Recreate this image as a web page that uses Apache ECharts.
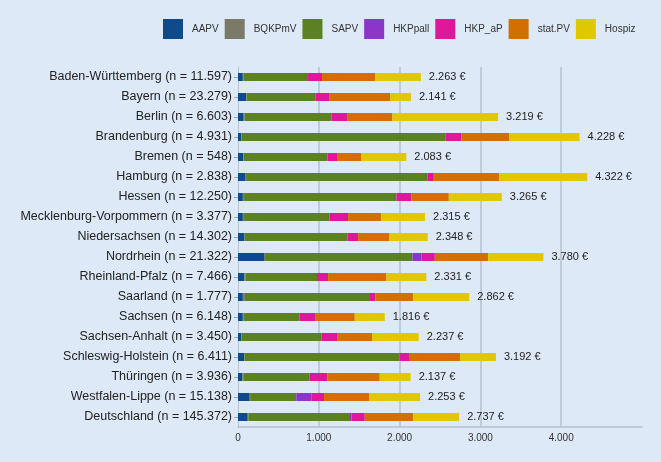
<!DOCTYPE html>
<html>
<head>
<meta charset="utf-8">
<script src="https://cdn.jsdelivr.net/npm/echarts@6/dist/echarts.min.js"></script>
<style>
html,body{margin:0;padding:0;background:#dde9f6;}
#chart{width:661px;height:462px;}
</style>
</head>
<body>
<div id="chart"></div>
<script>
const categories = [
  "Baden-Württemberg (n = 11.597)",
  "Bayern (n = 23.279)",
  "Berlin (n = 6.603)",
  "Brandenburg (n = 4.931)",
  "Bremen (n = 548)",
  "Hamburg (n = 2.838)",
  "Hessen (n = 12.250)",
  "Mecklenburg-Vorpommern (n = 3.377)",
  "Niedersachsen (n = 14.302)",
  "Nordrhein (n = 21.322)",
  "Rheinland-Pfalz (n = 7.466)",
  "Saarland (n = 1.777)",
  "Sachsen (n = 6.148)",
  "Sachsen-Anhalt (n = 3.450)",
  "Schleswig-Holstein (n = 6.411)",
  "Thüringen (n = 3.936)",
  "Westfalen-Lippe (n = 15.138)",
  "Deutschland (n = 145.372)"
];
const AAPV    = [60, 100, 70, 40, 65, 95, 60, 60, 80, 330, 80, 60, 60, 40, 75, 55, 145, 120];
const BQKPmV  = [10, 8, 12, 5, 8, 5, 15, 15, 5, 5, 15, 25, 8, 5, 5, 10, 5, 8];
const SAPV    = [797, 854, 1074, 2527, 1037, 2249, 1886, 1056, 1273, 1824, 883, 1537, 692, 991, 1922, 823, 572, 1247];
const HKPpall = [0, 0, 0, 0, 0, 0, 0, 0, 0, 111, 0, 0, 0, 0, 0, 0, 190, 29];
const HKP_aP  = [173, 165, 202, 193, 124, 74, 186, 231, 128, 166, 137, 79, 194, 190, 124, 218, 153, 165];
const statPV  = [657, 760, 553, 595, 289, 809, 462, 409, 388, 660, 722, 466, 491, 433, 623, 648, 557, 598];
const Hospiz  = [566, 254, 1308, 868, 560, 1090, 656, 544, 474, 684, 494, 695, 371, 578, 443, 383, 631, 570];
const totals  = [2263, 2141, 3219, 4228, 2083, 4322, 3265, 2315, 2348, 3780, 2331, 2862, 1816, 2237, 3192, 2137, 2253, 2737];
const xTicks  = ["0", "1.000", "2.000", "3.000", "4.000"];

const seriesDefs = [
  ["AAPV", AAPV, "#0f4a8a"],
  ["BQKPmV", BQKPmV, "#7b7a68"],
  ["SAPV", SAPV, "#5b8122"],
  ["HKPpall", HKPpall, "#8b35c9"],
  ["HKP_aP", HKP_aP, "#e0179a"],
  ["stat.PV", statPV, "#d36e00"],
  ["Hospiz", Hospiz, "#e0c800"]
];

const fmt = v => String(v).replace(/\B(?=(\d{3})+(?!\d))/g, ".");
const FONT = "Liberation Sans, Arial, sans-serif";

const series = seriesDefs.map(([name, data, color]) => ({
  name, type: "bar", stack: "total", data,
  barWidth: 8,
  itemStyle: { color },
  emphasis: { disabled: true }
}));
series.push({
  name: "Summe", type: "bar", stack: "total",
  data: totals.map(() => 0),
  barWidth: 8,
  itemStyle: { color: "transparent" },
  label: {
    show: true, position: "right", distance: 8,
    color: "#222", fontSize: 11, fontFamily: FONT,
    formatter: p => fmt(totals[p.dataIndex]) + " €"
  }
});

const chart = echarts.init(document.getElementById("chart"), null, { renderer: "canvas" });
chart.setOption({
  backgroundColor: "#dde9f6",
  animation: false,
  legend: {
    data: seriesDefs.map(d => d[0]),
    left: 163, top: 19, width: 495, padding: 0,
    itemWidth: 20, itemHeight: 20, itemGap: 6,
    icon: "rect",
    textStyle: { color: "#333", fontSize: 10, fontFamily: FONT, padding: [0, 0, 0, 4] }
  },
  grid: { left: 238, right: 19, top: 67, bottom: 35, containLabel: false },
  xAxis: {
    type: "value", min: 0, max: 5000, interval: 1000,
    axisLine: { show: true, lineStyle: { color: "#b4c0cc", width: 1.5 } },
    axisTick: { show: false },
    axisLabel: {
      color: "#333", fontSize: 10, fontFamily: FONT,
      showMaxLabel: false, margin: 6,
      formatter: v => (v / 1000 < xTicks.length ? xTicks[v / 1000] : "")
    },
    splitLine: { show: true, showMinLine: false, showMaxLine: false, lineStyle: { color: "#b4c0cc", width: 1.5 } }
  },
  yAxis: {
    type: "category", data: categories, inverse: true,
    axisLine: { show: true, lineStyle: { color: "#b4c0cc", width: 1 } },
    axisTick: { show: true, alignWithLabel: true, length: 4, lineStyle: { color: "#9aa6b2" } },
    axisLabel: { color: "#222", fontSize: 12.5, margin: 6, fontFamily: FONT }
  },
  series
});
</script>
</body>
</html>
